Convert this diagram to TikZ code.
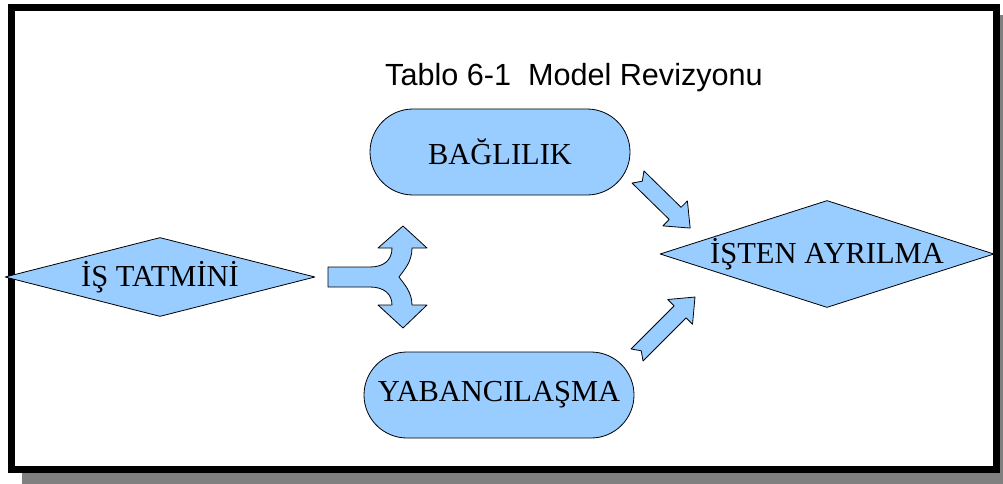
\documentclass[tikz,border=0pt]{standalone}
\usepackage{fontspec}
\setmainfont{Liberation Serif}
\newfontfamily\titlefont{Liberation Sans}
\usepackage{tikz}
\usetikzlibrary{shapes.geometric, shapes.misc}
\definecolor{lightblue}{HTML}{99CCFF}
\definecolor{shadowgray}{HTML}{808080}
\tikzset{bluebox/.style={fill=lightblue, draw=black, line width=0.8pt, line join=round},
  stadium/.style={bluebox, rounded rectangle, inner sep=0pt, font=\fontsize{30.5}{36}\selectfont},
  rhombus/.style={bluebox, diamond, inner sep=0pt, label={[font=\fontsize{30.5}{36}\selectfont]center:#1}}}
\newcommand\notcharrow[3]{%
  \begin{scope}[shift={#1}, rotate=#2]
    \draw [bluebox] (0,-8.5) -- (#3-21,-8.5) -- (#3-21,-17.5) -- (#3,0) -- (#3-21,17.5) -- (#3-21,8.5) -- (0,8.5) -- (6,0) -- cycle;
  \end{scope}}

\begin{document}
\begin{tikzpicture}[x=1pt, y=-1pt]
      \useasboundingbox (0,0) rectangle (1003,484);
      % frame with shadow
      \fill [shadowgray] (22,15) rectangle (1020,484);
      \draw [line width=7pt, fill=white] (11.5,7.5) rectangle (996.5,469.5);

      \node [anchor=base, font=\titlefont\fontsize{30.6}{36}\selectfont] (title) at (574,86) {Tablo 6-1\ \ Model Revizyonu};

      \node [stadium, minimum width=260pt, minimum height=86pt] (bag) at (500,152) {BAĞLILIK};
      \node [stadium, minimum width=270pt, minimum height=86pt] (yab) at (499,395) {YABANCILAŞMA};
      \node [rhombus={İŞ TATMİNİ}, minimum width=310pt, minimum height=79pt] (tatmin) at (160,277) {};
      \node [rhombus={İŞTEN AYRILMA}, minimum width=334pt, minimum height=107pt] (ayril) at (827,254) {};

      % split arrow
      \draw [bluebox] (328,267) -- (370,267) .. controls (384,267) and (392,260) .. (392,248) -- (378,248) -- (403,226) -- (427,248) -- (412,248)
        .. controls (412,262) and (404,270) .. (399,277) .. controls (404,284) and (412,292) .. (412,305) -- (427,305) -- (403,328) -- (378,305) -- (392,305)
        .. controls (392,294) and (384,287) .. (370,287) -- (328,287) -- cycle;

      \notcharrow{(638,177)}{-44.4}{73}
      \notcharrow{(637,355)}{45}{82}
    \end{tikzpicture}
\end{document}
